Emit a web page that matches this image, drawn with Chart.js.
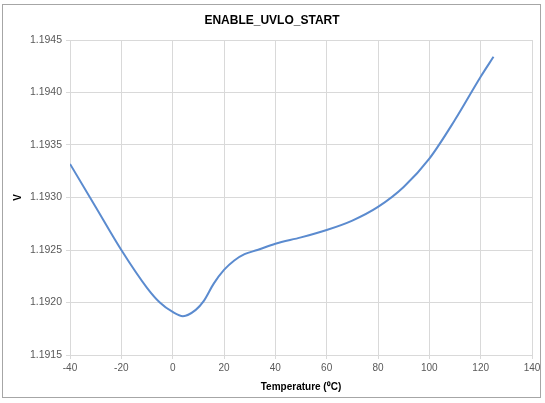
<!DOCTYPE html>
<html>
<head>
<meta charset="utf-8">
<script src="https://cdn.jsdelivr.net/npm/chart.js@4"></script>
<style>
  html, body { margin:0; padding:0; background:#fff; }
  #wrap { width:545px; height:403px; }
</style>
</head>
<body>
<div id="wrap"><canvas id="chart" width="545" height="403"></canvas></div>
<script>
// values
const TEMPS = [-40, -30, -20, -10, -5, 0, 4, 9, 12, 16, 20, 24, 28, 33, 40, 50, 60, 70, 80, 90, 100, 110, 120, 125];
const VOLTS = [1.19332, 1.19291, 1.19250, 1.19214, 1.19200, 1.19191, 1.19187, 1.19193, 1.19201, 1.19218, 1.19231, 1.19240, 1.19246, 1.19250, 1.19256, 1.19262, 1.19269, 1.19278, 1.19291, 1.19310, 1.19337, 1.19374, 1.19415, 1.19434];
const X_MIN = -40, X_MAX = 140, X_STEP = 20;
const Y_MIN = 1.1915, Y_MAX = 1.1945, Y_STEP = 0.0005;

const FONT = "'Liberation Sans', Arial, sans-serif";
const GRID = '#d9d9d9';
const TXT = '#595959';

// white background + grey chart frame
const frame = {
  id: 'frame',
  beforeDraw(c) {
    const ctx = c.ctx;
    ctx.save();
    ctx.fillStyle = '#fff';
    ctx.fillRect(0, 0, c.width, c.height);
    ctx.strokeStyle = '#a6a6a6';
    ctx.lineWidth = 1;
    ctx.strokeRect(2.5, 4.5, 538, 393);
    ctx.restore();
  }
};

new Chart(document.getElementById('chart'), {
  type: 'scatter',
  data: {
    datasets: [{
      data: TEMPS.map((t, i) => ({ x: t, y: VOLTS[i] })),
      showLine: true,
      borderColor: '#5b8bcf',
      borderWidth: 2,
      pointRadius: 0,
      cubicInterpolationMode: 'monotone'
    }]
  },
  plugins: [frame],
  options: {
    responsive: false,
    animation: false,
    devicePixelRatio: 1,
    layout: { padding: { left: 12, right: 13, top: 0, bottom: 10 } },
    plugins: {
      legend: { display: false },
      tooltip: { enabled: false },
      title: {
        display: true,
        text: 'ENABLE_UVLO_START',
        color: '#000',
        font: { family: FONT, size: 12, weight: 'bold' },
        padding: { top: 13, bottom: 12.6 }
      }
    },
    scales: {
      x: {
        type: 'linear',
        min: X_MIN, max: X_MAX,
        ticks: { stepSize: X_STEP, color: TXT, font: { family: FONT, size: 10 }, padding: 3 },
        grid: { color: GRID, tickLength: 4 },
        border: { color: GRID },
        title: { display: true, text: 'Temperature (⁰C)', color: '#000', font: { family: FONT, size: 10, weight: 'bold' }, padding: { top: 3, bottom: 0 } },
        afterFit(s) { s.height = 38; }
      },
      y: {
        min: Y_MIN, max: Y_MAX,
        ticks: { stepSize: Y_STEP, color: TXT, font: { family: FONT, size: 10.5 }, padding: 4, callback: v => v.toFixed(4) },
        grid: { color: GRID, tickLength: 4 },
        border: { color: GRID },
        title: { display: true, text: 'V', color: '#000', font: { family: FONT, size: 10, weight: 'bold' }, padding: { top: 0, bottom: 4 } },
        afterFit(s) { s.width = 58; }
      }
    }
  }
});
</script>
</body>
</html>
